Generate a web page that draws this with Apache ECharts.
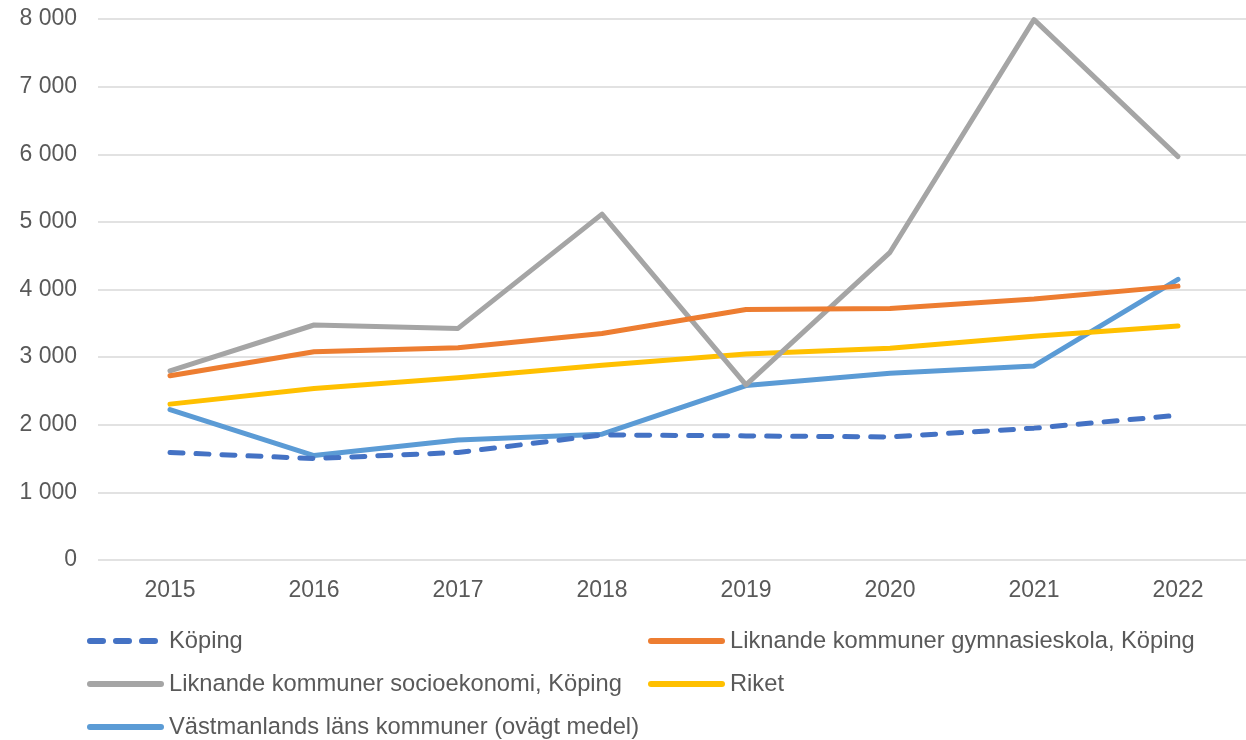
<!DOCTYPE html>
<html>
<head>
<meta charset="utf-8">
<script src="https://cdn.jsdelivr.net/npm/echarts@6/dist/echarts.min.js"></script>
<style>
html,body{margin:0;padding:0;background:#fff;overflow:hidden;}
#c{width:1250px;height:740px;}
</style>
</head>
<body>
<div id="c"></div>
<script>
const years = ['2015','2016','2017','2018','2019','2020','2021','2022'];
const koping = [1590, 1500, 1590, 1850, 1835, 1820, 1950, 2140];
const gymnasieskola = [2725, 3080, 3140, 3350, 3705, 3720, 3860, 4050];
const socioekonomi = [2795, 3475, 3425, 5115, 2590, 4550, 7990, 5965];
const riket = [2305, 2535, 2695, 2880, 3045, 3130, 3310, 3460];
const vastmanland = [2225, 1545, 1775, 1860, 2580, 2760, 2870, 4150];
const yTicks = { min: 0, max: 8000, interval: 1000 };

const names = [
  'Köping',
  'Liknande kommuner gymnasieskola, Köping',
  'Liknande kommuner socioekonomi, Köping',
  'Riket',
  'Västmanlands läns kommuner (ovägt medel)'
];
const colors = ['#4472C4', '#ED7D31', '#A5A5A5', '#FFC000', '#5B9BD5'];
const dataSets = [koping, gymnasieskola, socioekonomi, riket, vastmanland];

const font = 'Liberation Sans, Arial, sans-serif';
const textColor = '#595959';

function fmt(v) {
  return String(v).replace(/\B(?=(\d{3})+(?!\d))/g, ' ');
}

const legendPos = [
  { left: 87, top: 629 },
  { left: 648, top: 629 },
  { left: 87, top: 672 },
  { left: 648, top: 672 },
  { left: 87, top: 715 }
];

const chart = echarts.init(document.getElementById('c'), null, { renderer: 'canvas' });
chart.setOption({
  animation: false,
  backgroundColor: '#ffffff',
  grid: { left: 98, right: 0, top: 19, bottom: 180, containLabel: false },
  xAxis: {
    type: 'category',
    data: years,
    boundaryGap: true,
    axisLine: { show: false },
    axisTick: { show: false },
    axisLabel: { color: textColor, fontSize: 23, fontFamily: font, margin: 19 }
  },
  yAxis: {
    type: 'value',
    min: yTicks.min, max: yTicks.max, interval: yTicks.interval,
    axisLine: { show: false },
    axisTick: { show: false },
    splitLine: { lineStyle: { color: '#D9D9D9', width: 1.5 } },
    axisLabel: { color: textColor, fontSize: 23, fontFamily: font, margin: 21, formatter: fmt }
  },
  legend: names.map((n, i) => ({
    data: [n],
    left: legendPos[i].left,
    top: legendPos[i].top,
    padding: 0,
    itemWidth: 71,
    itemHeight: 24,
    selectedMode: false,
    itemStyle: { opacity: 0 },
    lineStyle: { width: 6, cap: 'round' },
    textStyle: { color: textColor, fontSize: 23.7, fontFamily: font, padding: [0, 0, 0, 3] }
  })),
  series: names.map((n, i) => ({
    name: n,
    type: 'line',
    data: dataSets[i],
    symbol: 'none',
    showSymbol: false,
    color: colors[i],
    lineStyle: {
      color: colors[i],
      width: 5,
      cap: 'round',
      join: 'round',
      type: i === 0 ? [13, 13] : 'solid'
    },
    z: 10 - i
  }))
});
</script>
</body>
</html>
